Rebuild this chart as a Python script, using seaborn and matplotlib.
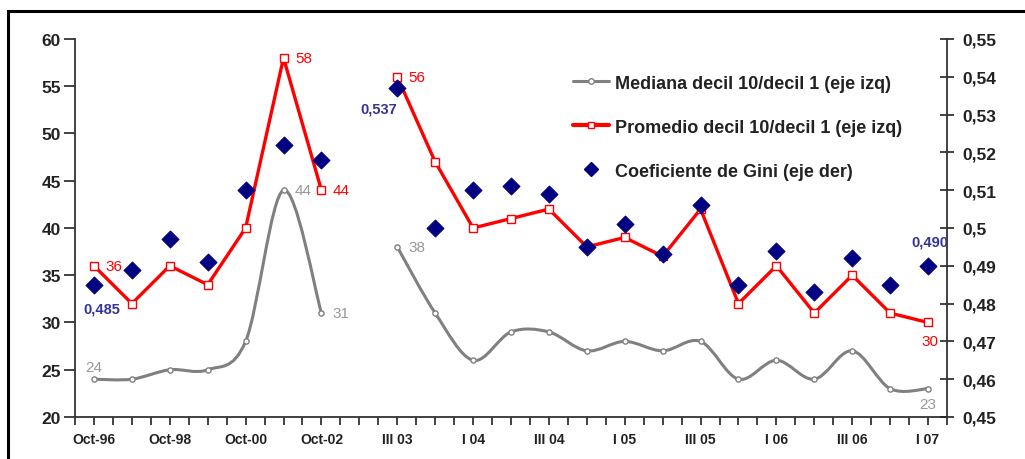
import numpy as np
import pandas as pd
import matplotlib
matplotlib.use("Agg")
import matplotlib.pyplot as plt
import seaborn as sns
from matplotlib.path import Path
from matplotlib.patches import PathPatch, Rectangle
from matplotlib.lines import Line2D

# ------------------------------
# Data
# ------------------------------
periods = ["Oct-96", "Oct-97", "Oct-98", "Oct-99", "Oct-00", "Oct-01", "Oct-02", "",
           "III 03", "IV 03", "I 04", "II 04", "III 04", "IV 04", "I 05", "II 05",
           "III 05", "IV 05", "I 06", "II 06", "III 06", "IV 06", "I 07"]
tick_labels = ["Oct-96", "", "Oct-98", "", "Oct-00", "", "Oct-02", "",
               "III 03", "", "I 04", "", "III 04", "", "I 05", "",
               "III 05", "", "I 06", "", "III 06", "", "I 07"]
mediana = [24, 24, 25, 25, 28, 44, 31, np.nan,
           38, 31, 26, 29, 29, 27, 28, 27, 28, 24, 26, 24, 27, 23, 23]
promedio = [36, 32, 36, 34, 40, 58, 44, np.nan,
            56, 47, 40, 41, 42, 38, 39, 37, 42, 32, 36, 31, 35, 31, 30]
gini = [0.485, 0.489, 0.497, 0.491, 0.510, 0.522, 0.518, np.nan,
        0.537, 0.500, 0.510, 0.511, 0.509, 0.495, 0.501, 0.493,
        0.506, 0.485, 0.494, 0.483, 0.492, 0.485, 0.490]
right_labels = ["0,45", "0,46", "0,47", "0,48", "0,49", "0,5",
                "0,51", "0,52", "0,53", "0,54", "0,55"]

df = pd.DataFrame({"periodo": periods, "mediana": mediana,
                   "promedio": promedio, "gini": gini})
df["pos"] = np.arange(len(df))
df["tramo"] = (df["pos"] > 7).astype(int)
df = df.dropna()

GRAY = "#808080"
RED = "#FF0000"
NAVY = "#000080"
LABEL_NAVY = "#333399"
LABEL_GRAY = "#999999"
TXT = "#222222"

sns.set_theme(style="white")
plt.rcParams["font.family"] = ["Liberation Sans", "DejaVu Sans"]

fig = plt.figure(figsize=(10.25, 4.6), dpi=100)
ax = fig.add_axes([75 / 1025, 1 - 418 / 460, (947 - 75) / 1025, (418 - 40) / 460])
ax2 = ax.twinx()

# ------------------------------
# Smoothed gray line (Bezier through the points, like Excel smoothing)
# ------------------------------
def smooth_path(x, y):
    pts = np.column_stack([x, y])
    verts = [pts[0]]
    codes = [Path.MOVETO]
    n = len(pts)
    for i in range(n - 1):
        p0 = pts[max(i - 1, 0)]
        p1 = pts[i]
        p2 = pts[i + 1]
        p3 = pts[min(i + 2, n - 1)]
        verts += [p1 + (p2 - p0) / 6, p2 - (p3 - p1) / 6, p2]
        codes += [Path.CURVE4] * 3
    return Path(verts, codes)

for _, seg in df.groupby("tramo"):
    ax.add_patch(PathPatch(smooth_path(seg["pos"].values, seg["mediana"].values),
                           facecolor="none", edgecolor=GRAY, lw=2.2, zorder=2))
sns.scatterplot(data=df, x="pos", y="mediana", ax=ax, marker="o", s=14,
                facecolor="white", edgecolor=GRAY, linewidth=1, zorder=3)

# Red line with squares
sns.lineplot(data=df, x="pos", y="promedio", units="tramo", estimator=None, ax=ax,
             color=RED, lw=2.4, marker="s", markersize=5.5,
             markerfacecolor="white", markeredgecolor=RED, markeredgewidth=1,
             zorder=4)

# Gini diamonds on right axis
sns.scatterplot(data=df, x="pos", y="gini", ax=ax2, marker="D", s=75,
                color=NAVY, edgecolor=NAVY, zorder=5)

# ------------------------------
# Axes formatting
# ------------------------------
ax.set_xlim(-0.5, 22.5)
ax.set_ylim(20, 60)
ax2.set_ylim(0.45, 0.55)
ax.set_xlabel("")
ax.set_ylabel("")
ax2.set_ylabel("")

ax.set_xticks(np.arange(len(periods)))
ax.set_xticklabels(tick_labels, fontsize=10, fontweight="bold", color=TXT)
ax.set_xticks(np.arange(-0.5, 23, 1.0), minor=True)
ax.set_yticks(np.arange(20, 61, 5))
ax.set_yticklabels([str(v) for v in range(20, 61, 5)], fontweight="bold")
ax.tick_params(axis="y", labelsize=12.5, colors=TXT, length=8, width=1.2,
               direction="out", pad=2, left=True)
ax.tick_params(axis="x", which="both", length=6, width=1.2, direction="out",
               pad=5, bottom=True, colors=TXT)
ax2.set_yticks(np.linspace(0.45, 0.55, 11))
ax2.set_yticklabels(right_labels, fontweight="bold")
ax2.tick_params(axis="y", labelsize=12.5, colors=TXT, length=10, width=1.2,
                direction="inout", pad=6, right=True)

for a in (ax, ax2):
    a.spines["top"].set_visible(False)
    for s in ("left", "bottom", "right"):
        a.spines[s].set_color("#333333")
        a.spines[s].set_linewidth(1.3)
ax2.spines["left"].set_visible(False)
ax2.spines["bottom"].set_visible(False)
ax.spines["right"].set_visible(False)
ax.grid(False)
ax2.grid(False)
ax2.set_zorder(ax.get_zorder() + 1)
ax.patch.set_visible(False)

# ------------------------------
# Data labels
# ------------------------------
lab = dict(fontsize=11)
ax.text(0.3, 36, "36", color=RED, va="center", ha="left", **lab)
ax.text(5.3, 58, "58", color=RED, va="center", ha="left", **lab)
ax.text(6.3, 44, "44", color=RED, va="center", ha="left", **lab)
ax.text(8.3, 56, "56", color=RED, va="center", ha="left", **lab)
ax.text(22.05, 28, "30", color=RED, va="center", ha="center", **lab)
ax.text(0.0, 25.3, "24", color=LABEL_GRAY, va="center", ha="center", **lab)
ax.text(5.3, 44, "44", color=LABEL_GRAY, va="center", ha="left", **lab)
ax.text(6.3, 31, "31", color=LABEL_GRAY, va="center", ha="left", **lab)
ax.text(8.3, 38, "38", color=LABEL_GRAY, va="center", ha="left", **lab)
ax.text(22.0, 21.4, "23", color=LABEL_GRAY, va="center", ha="center", **lab)
ax2.text(0.7, 0.4788, "0,485", color=LABEL_NAVY, va="center", ha="right",
         fontweight="bold", fontsize=10.5)
ax2.text(8.0, 0.5315, "0,537", color=LABEL_NAVY, va="center", ha="right",
         fontweight="bold", fontsize=10.5)
ax2.text(22.05, 0.4965, "0,490", color=LABEL_NAVY, va="center", ha="center",
         fontweight="bold", fontsize=10.5)

# ------------------------------
# Legend
# ------------------------------
handles = [
    Line2D([], [], color=GRAY, lw=2.2, marker="o", markersize=4,
           markerfacecolor="white", markeredgecolor=GRAY),
    Line2D([], [], color=RED, lw=3, marker="s", markersize=5,
           markerfacecolor="white", markeredgecolor=RED),
    Line2D([], [], color=NAVY, lw=0, marker="D", markersize=7),
]
labels = ["Mediana decil 10/decil 1 (eje izq)",
          "Promedio decil 10/decil 1 (eje izq)",
          "Coeficiente de Gini (eje der)"]
leg = ax2.legend(handles, labels, loc="upper left", bbox_to_anchor=(0.563, 0.925),
                 frameon=False, fontsize=13, labelspacing=1.5, handlelength=2.0,
                 handletextpad=0.3, borderaxespad=0)
for t in leg.get_texts():
    t.set_fontweight("bold")
    t.set_color(TXT)

# Outer frame (top and left edges visible)
fig.patches.append(Rectangle((8 / 1025, -0.2), 1.1, 0.2 + 1 - 12 / 460,
                             transform=fig.transFigure, fill=False,
                             edgecolor="black", lw=2.2, zorder=10))

fig.savefig("out.png", dpi=100)
